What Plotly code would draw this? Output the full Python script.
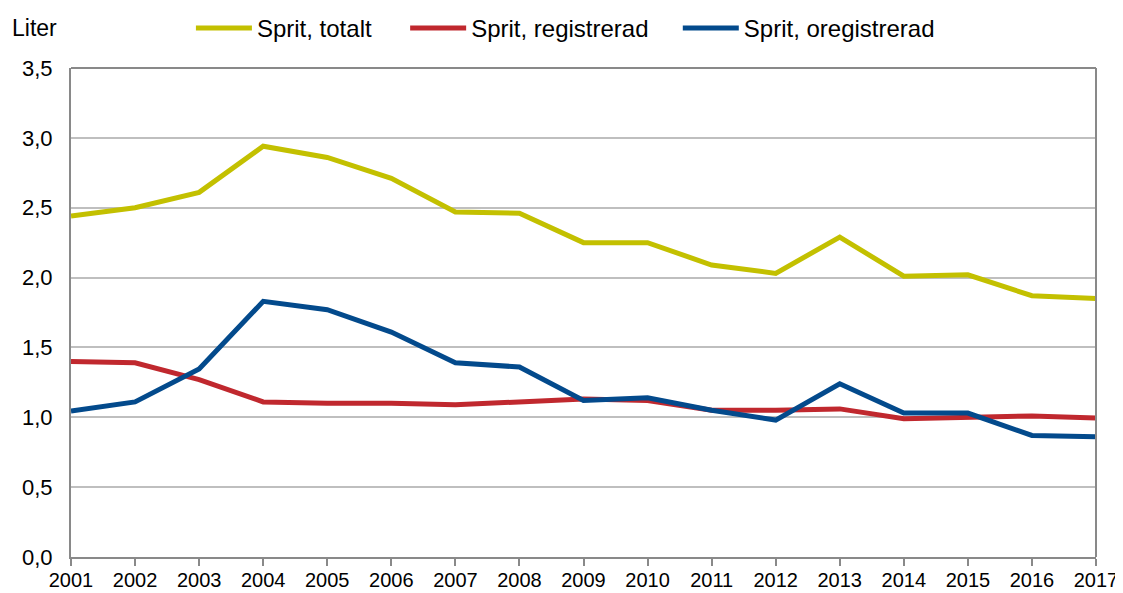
import plotly.graph_objects as go

years = list(range(2001, 2018))
totalt = [2.44, 2.50, 2.61, 2.94, 2.86, 2.71, 2.47, 2.46, 2.25, 2.25, 2.09, 2.03, 2.29, 2.01, 2.02, 1.87, 1.85]
registrerad = [1.40, 1.39, 1.27, 1.11, 1.10, 1.10, 1.09, 1.11, 1.13, 1.12, 1.05, 1.05, 1.06, 0.99, 1.00, 1.01, 0.995]
oregistrerad = [1.045, 1.11, 1.345, 1.83, 1.77, 1.61, 1.39, 1.36, 1.12, 1.14, 1.05, 0.98, 1.24, 1.03, 1.03, 0.87, 0.86]

names = ["Sprit, totalt", "Sprit, registrerad", "Sprit, oregistrerad"]
colors = ["#C3C000", "#C0282E", "#034A8C"]
legend_ids = ["legend", "legend2", "legend3"]
legend_x = [0.117, 0.326, 0.592]

fig = go.Figure()
for name, vals, col, lid in zip(names, [totalt, registrerad, oregistrerad], colors, legend_ids):
    fig.add_trace(go.Scatter(x=years, y=vals, mode="lines", name=name, legend=lid,
                             line=dict(color=col, width=5)))

leg_common = dict(orientation="h", xanchor="left", y=1.127, yanchor="top",
                  yref="paper", font=dict(size=24), itemwidth=56,
                  bgcolor="rgba(0,0,0,0)")

fig.update_layout(
    width=1115, height=585,
    margin=dict(l=63, r=27, t=60, b=36, autoexpand=False),
    paper_bgcolor="white", plot_bgcolor="white",
    font=dict(family="Liberation Sans, Arial, sans-serif", size=22, color="black"),
    separators=", ",
    showlegend=True,
    legend=dict(x=legend_x[0], **leg_common),
    legend2=dict(x=legend_x[1], **leg_common),
    legend3=dict(x=legend_x[2], **leg_common),
    xaxis=dict(range=[2001, 2017], tickmode="array", tickvals=years,
               ticktext=[str(y) for y in years], showgrid=False, automargin=False,
               showline=True, linecolor="#898989", linewidth=2,
               ticks="outside", ticklen=7, tickcolor="#898989", tickwidth=2,
               zeroline=False, tickfont=dict(size=20), ticklabelstandoff=-3),
    yaxis=dict(range=[0, 3.5], tickvals=[0, 0.5, 1, 1.5, 2, 2.5, 3, 3.5], automargin=False,
               tickformat=".1f", showgrid=True, gridcolor="#BFBFBF", gridwidth=1.5,
               showline=True, linecolor="#898989", linewidth=2,
               ticks="", zeroline=False, tickfont=dict(size=22), ticklabelstandoff=12),
    shapes=[dict(type="line", xref="paper", yref="paper", x0=1, x1=1, y0=0, y1=1,
                 line=dict(color="#898989", width=2)),
            dict(type="line", xref="paper", yref="paper", x0=0, x1=1, y0=1, y1=1,
                 line=dict(color="#898989", width=2))],
    annotations=[dict(text="Liter", xref="paper", yref="paper", x=-0.0595, y=1.082,
                      xanchor="left", yanchor="middle", showarrow=False,
                      font=dict(size=23))],
)

fig.write_html("out.html")
